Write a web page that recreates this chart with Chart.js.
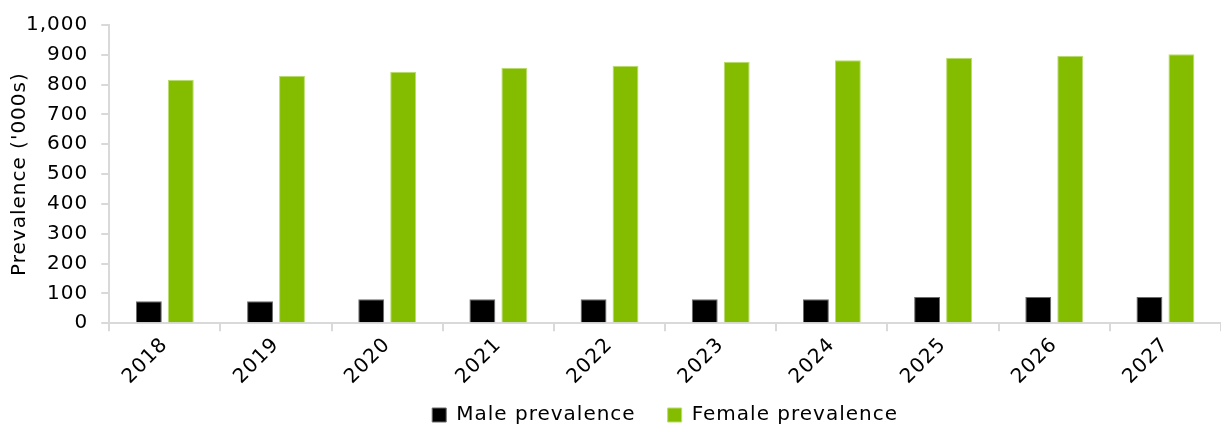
<!DOCTYPE html>
<html>
<head>
<meta charset="utf-8">
<script src="https://cdn.jsdelivr.net/npm/chart.js@4/dist/chart.umd.min.js"></script>
<style>
  html, body { margin: 0; padding: 0; background: #ffffff; }
  #wrap { width: 1221px; height: 430px; position: relative; }
</style>
</head>
<body>
<div id="wrap"><canvas id="c" width="1221" height="430"></canvas></div>
<script>
const categories = ['2018', '2019', '2020', '2021', '2022', '2023', '2024', '2025', '2026', '2027'];
const malePrevalence = [74, 74, 80, 80, 80, 80, 80, 88, 88, 88];
const femalePrevalence = [816, 830, 843, 857, 863, 877, 882, 890, 897, 902];
const seriesNames = ['Male prevalence', 'Female prevalence'];
const yTitle = "Prevalence ('000s)";

const FONT = 'DejaVu Sans, Verdana, sans-serif';
const LEGEND_FIT_PAD = 9;
const LEGEND_GAP = 32;
const LEGEND_TEXT_CENTER = 415;

const spacingPlugin = {
  id: 'letterSpacing',
  beforeInit(chart) { chart.ctx.letterSpacing = '1px'; },
  beforeUpdate(chart) { chart.ctx.letterSpacing = '1px'; },
  beforeLayout(chart) { chart.ctx.letterSpacing = '1px'; },
  beforeDraw(chart) {
    chart.ctx.letterSpacing = '1px';
    const lg = chart.legend;
    if (lg && lg.options && lg.lineWidths) {
      // keep compact vertical fit, but wider horizontal gaps when drawing
      const n = lg.legendItems ? lg.legendItems.length : 0;
      if (!lg._gapAdjusted) {
        lg.lineWidths[0] += n * (LEGEND_GAP - LEGEND_FIT_PAD);
        lg._gapAdjusted = true;
      }
      lg.options.labels.padding = LEGEND_GAP;
      lg.top = LEGEND_TEXT_CENTER - 10 - LEGEND_GAP;
    }
  }
};

new Chart(document.getElementById('c'), {
  type: 'bar',
  plugins: [spacingPlugin],
  data: {
    labels: categories,
    datasets: [
      {
        label: seriesNames[0],
        data: malePrevalence,
        backgroundColor: '#000000',
        borderColor: '#6b6b6b',
        borderWidth: 1,
        categoryPercentage: 0.575,
        barPercentage: 0.81
      },
      {
        label: seriesNames[1],
        data: femalePrevalence,
        backgroundColor: '#84bc00',
        borderColor: '#b9dc6e',
        borderWidth: 1,
        categoryPercentage: 0.575,
        barPercentage: 0.81
      }
    ]
  },
  options: {
    responsive: false,
    animation: false,
    devicePixelRatio: 1,
    layout: { padding: { top: 10, right: 0, left: 3, bottom: 0 } },
    plugins: {
      tooltip: { enabled: false },
      legend: {
        position: 'bottom',
        fullSize: false,
        labels: {
          color: '#000000',
          font: { family: FONT, size: 20 },
          boxWidth: 14,
          boxHeight: 14,
          padding: LEGEND_FIT_PAD,
          useBorderRadius: false
        }
      }
    },
    scales: {
      x: {
        grid: {
          drawOnChartArea: false,
          color: '#d9d9d9',
          tickColor: '#d9d9d9',
          tickLength: 8,
          lineWidth: 2,
          offset: true
        },
        border: { color: '#d9d9d9', width: 2 },
        ticks: {
          color: '#000000',
          font: { family: FONT, size: 20 },
          minRotation: 45,
          maxRotation: 45,
          padding: 2
        }
      },
      y: {
        min: 0,
        max: 1000,
        grid: {
          drawOnChartArea: false,
          color: '#d9d9d9',
          tickColor: '#d9d9d9',
          tickLength: 8,
          lineWidth: 2
        },
        border: { color: '#d9d9d9', width: 2 },
        ticks: {
          stepSize: 100,
          color: '#000000',
          font: { family: FONT, size: 20 },
          padding: 13,
          callback: (v) => v.toLocaleString('en-US')
        },
        title: {
          display: true,
          text: yTitle,
          color: '#000000',
          font: { family: FONT, size: 20 },
          padding: { top: 5, bottom: -19 }
        }
      }
    }
  }
});
</script>
</body>
</html>
